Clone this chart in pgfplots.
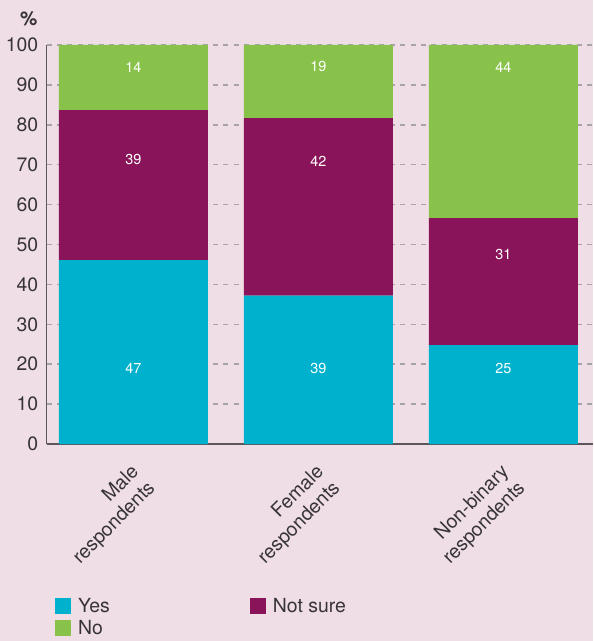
\documentclass[border=0pt]{standalone}
\usepackage{pgfplots}
\pgfplotsset{compat=1.18}
\usepackage{pgfplotstable}
\usepackage{fontspec}
\setmainfont{TeX Gyre Heros}
\definecolor{bgpink}{RGB}{240,222,230}
\definecolor{cyanY}{RGB}{0,177,206}
\definecolor{purpleN}{RGB}{137,20,89}
\definecolor{greenN}{RGB}{136,194,74}
\definecolor{txtgray}{RGB}{55,52,55}
\definecolor{axgray}{RGB}{90,86,90}
\definecolor{gridgray}{RGB}{168,163,168}

\pgfplotstableread{
x yes notsure no
0 46.1 37.6 16.3
1 37.2 44.5 18.3
2 24.8 31.8 43.4
}\datatable

\newcommand{\bigfont}{\fontsize{19.5}{23}\selectfont}
\newcommand{\smallfont}{\fontsize{14.5}{17}\selectfont}

\begin{document}
\begin{tikzpicture}
\fill[bgpink] (-46.5bp,-197bp) rectangle (546.5bp,444bp);
\begin{axis}[
  at={(0,0)}, anchor=south west,
  scale only axis,
  width=546.5bp, height=399bp,
  xmin=-0.47, xmax=2.484,
  ymin=0, ymax=100,
  enlargelimits=false,
  ybar stacked,
  bar width=149bp,
  axis x line=bottom, axis y line=left,
  axis line style={-, draw=axgray, line width=1.3bp},
  xtick={0,1,2},
  xticklabels={{Male\\respondents},{Female\\respondents},{Non-binary\\respondents}},
  x tick label style={font=\bigfont, text=txtgray, align=right, rotate=45, anchor=north east, inner sep=0pt, xshift=-16bp, yshift=-10.5bp},
  xtick style={draw=none},
  major tick length=0pt,
  extra x ticks={-0.47,0.495,1.495},
  extra x tick labels={},
  extra x tick style={grid=none, major tick length=11bp, tick align=outside, tick style={draw=axgray, line width=1.3bp}},
  ytick={0,10,...,100},
  ytick style={draw=none},
  y tick label style={font=\bigfont, text=txtgray, inner sep=0pt, xshift=-8bp},
  /pgf/number format/assume math mode=true,
  ymajorgrids,
  major grid style={draw=gridgray, line width=1.5bp, dash pattern=on 5bp off 5.4bp},
  legend columns=2,
  legend style={at={(8.5bp,-154bp)}, anchor=north west, draw=none, fill=none,
    inner sep=0pt, font=\bigfont, text=txtgray,
    nodes={inner sep=0pt},
    column sep=0pt, row sep=6bp,
    /tikz/column 1/.style={column sep=7bp},
    /tikz/column 2/.style={column sep=140bp},
    /tikz/column 3/.style={column sep=7bp}},
  legend cell align=left,
  legend image code/.code={\fill[#1] (0bp,-8bp) rectangle (16bp,8bp);},
]
\addplot[fill=cyanY, draw=none] table[x=x, y=yes] {\datatable};
\addlegendentry{Yes}
\addplot[fill=purpleN, draw=none] table[x=x, y=notsure] {\datatable};
\addlegendentry{Not sure}
\addplot[fill=greenN, draw=none] table[x=x, y=no] {\datatable};
\addlegendentry{No}

\coordinate (y0) at (axis cs:0,19);
\coordinate (y1) at (axis cs:1,19);
\coordinate (y2) at (axis cs:2,19);
\coordinate (n0) at (axis cs:0,71.2);
\coordinate (n1) at (axis cs:1,70.9);
\coordinate (n2) at (axis cs:2,47.4);
\coordinate (g0) at (axis cs:0,94.5);
\coordinate (g1) at (axis cs:1,94.5);
\coordinate (g2) at (axis cs:2,94.5);
\end{axis}
\begin{scope}[every node/.style={font=\smallfont, text=white}]
\node at (y0) {47};
\node at (y1) {39};
\node at (y2) {25};
\node at (n0) {39};
\node at (n1) {42};
\node at (n2) {31};
\node at (g0) {14};
\node at (g1) {19};
\node at (g2) {44};
\end{scope}
\node[font=\bfseries\bigfont, text=txtgray] at (-17.8bp,425bp) {\%};
\end{tikzpicture}
\end{document}
